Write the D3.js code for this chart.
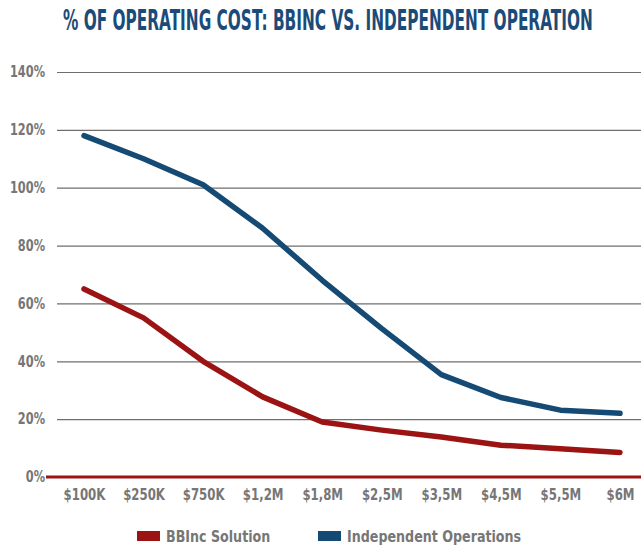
<!DOCTYPE html>
<html>
<head>
<meta charset="utf-8">
<script src="https://cdn.jsdelivr.net/npm/d3@7"></script>
<style>
  body { margin: 0; background: #fff; }
  svg { display: block; }
  .lbl { font-family: "Liberation Sans Narrow", "DejaVu Sans Condensed", Roboto, sans-serif; font-weight: bold; fill: #767676; }
</style>
</head>
<body>
<div id="chart"></div>
<script>
// Data ---------------------------------------------------------------------------------------------------------------
const categories = ["$100K", "$250K", "$750K", "$1,2M", "$1,8M", "$2,5M", "$3,5M", "$4,5M", "$5,5M", "$6M"];
const bbincValues = [65, 55, 40, 27.7, 19, 16.2, 13.8, 11, 9.8, 8.5];
const independentValues = [118, 110, 101, 86, 68, 51.3, 35.4, 27.5, 23.1, 22];
const yTicks = [0, 20, 40, 60, 80, 100, 120, 140];
const seriesNames = ["BBInc Solution", "Independent Operations"];
const seriesColors = ["#9b1313", "#154a74"];

// Canvas -------------------------------------------------------------------------------------------------------------
const canvasWidth = 641;
const canvasHeight = 546;

const svg = d3.select("#chart")
  .append("svg")
  .attr("width", canvasWidth)
  .attr("height", canvasHeight);

// squeeze a text horizontally so it looks like the condensed face of the original
function squeeze(sel, factor) {
  sel.each(function() {
    const len = this.getComputedTextLength();
    d3.select(this)
      .attr("textLength", len * factor)
      .attr("lengthAdjust", "spacingAndGlyphs");
  });
}

// Title
const title = svg.append("text")
  .text("% OF OPERATING COST: BBINC VS. INDEPENDENT OPERATION")
  .style("font-family", "'Liberation Sans Narrow', 'DejaVu Sans Condensed', Roboto, sans-serif")
  .style("font-weight", "bold")
  .style("font-size", "28px")
  .style("fill", "#1b4b78");
const titleScale = 530 / title.node().getComputedTextLength();
title.attr("transform", "translate(63, 30) scale(" + titleScale + ", 1)");

// Scales -------------------------------------------------------------------------------------------------------------
const xScale = d3.scalePoint()
  .domain(categories)
  .range([84, 620]);

const yScale = d3.scaleLinear()
  .domain([0, 140])
  .range([477, 72]);

// Grid + y labels
const yAxis = svg.append("g")
  .attr("transform", "translate(57, 0)")
  .call(d3.axisLeft(yScale).tickValues(yTicks).tickSize(-(canvasWidth - 57)).tickFormat(d => d + "%").tickPadding(12));
yAxis.select(".domain").remove();
yAxis.selectAll("line")
  .style("stroke", "#6f6f6f")
  .style("stroke-width", 1.2);
yAxis.selectAll("text")
  .attr("class", "lbl")
  .style("font-size", "15px");
squeeze(yAxis.selectAll("text"), 0.84);
yAxis.selectAll(".tick").filter(d => d === 0).select("line").remove();

// Zero baseline
svg.append("line")
  .attr("x1", 46)
  .attr("x2", canvasWidth)
  .attr("y1", yScale(0))
  .attr("y2", yScale(0))
  .style("stroke", "#9b1313")
  .style("stroke-width", 3);

// X labels
const xAxis = svg.append("g")
  .attr("transform", "translate(0, " + (yScale(0) + 4) + ")")
  .call(d3.axisBottom(xScale).tickSize(0).tickPadding(8));
xAxis.select(".domain").remove();
xAxis.selectAll("text")
  .attr("class", "lbl")
  .style("font-size", "15px");
squeeze(xAxis.selectAll("text"), 0.87);

// Lines --------------------------------------------------------------------------------------------------------------
const line = d3.line()
  .x((d, i) => xScale(categories[i]))
  .y(d => yScale(d));

[bbincValues, independentValues].forEach(function(values, i) {
  svg.append("path")
    .datum(values)
    .attr("d", line)
    .style("fill", "none")
    .style("stroke", seriesColors[i])
    .style("stroke-width", 5.5)
    .style("stroke-linecap", "round")
    .style("stroke-linejoin", "round");
});

// Legend -------------------------------------------------------------------------------------------------------------
const legendX = [137, 318];
seriesNames.forEach(function(name, i) {
  svg.append("rect")
    .attr("x", legendX[i])
    .attr("y", 531)
    .attr("width", 23)
    .attr("height", 10)
    .style("fill", seriesColors[i]);
  const t = svg.append("text")
    .text(name)
    .attr("class", "lbl")
    .attr("x", legendX[i] + 29)
    .attr("y", 542)
    .style("font-size", "16px");
  squeeze(t, 0.88);
});
</script>
</body>
</html>
